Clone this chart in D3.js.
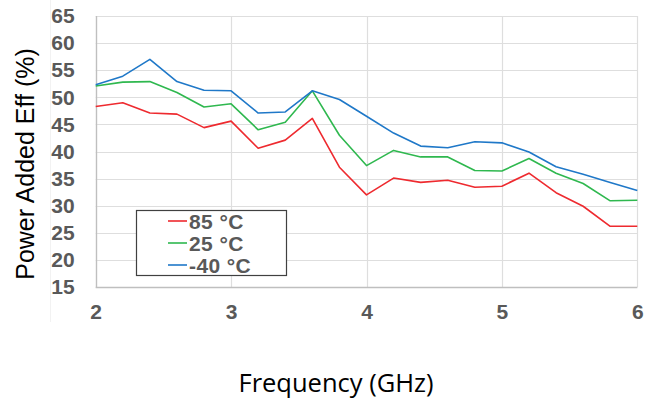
<!DOCTYPE html>
<html>
<head>
<meta charset="utf-8">
<script src="https://cdn.jsdelivr.net/npm/d3@7"></script>
<style>
  body { margin: 0; background: #fff; }
  svg { display: block; }
</style>
</head>
<body>
<div id="chart"></div>
<script>
// frequency points (GHz)
const freqs = [2.0, 2.2, 2.4, 2.6, 2.8, 3.0, 3.2, 3.4, 3.6, 3.8, 4.0,
               4.2, 4.4, 4.6, 4.8, 5.0, 5.2, 5.4, 5.6, 5.8, 6.0];

// PAE (%) per temperature
const pae85 = [48.3, 49.0, 47.1, 46.9, 44.4, 45.6, 40.6, 42.1, 46.1, 37.1, 32.0,
               35.1, 34.3, 34.7, 33.4, 33.6, 36.0, 32.4, 29.9, 26.2, 26.2];
const pae25 = [52.1, 52.8, 52.9, 50.9, 48.2, 48.8, 44.0, 45.4, 51.2, 43.0, 37.4,
               40.2, 39.0, 39.0, 36.5, 36.4, 38.7, 36.0, 34.1, 30.9, 31.0];
const paeM40 = [52.3, 53.9, 57.0, 52.9, 51.3, 51.2, 47.1, 47.3, 51.2, 49.6, 46.5,
                43.4, 41.0, 40.7, 41.8, 41.6, 39.9, 37.2, 35.8, 34.3, 32.8];

const seriesNames = ['85 °C', '25 °C', '-40 °C'];
const seriesColors = ['#ee2a2f', '#2fb84f', '#1f78c8'];
const xTicks = [2, 3, 4, 5, 6];
const yTicks = [15, 20, 25, 30, 35, 40, 45, 50, 55, 60, 65];

const width = 645, height = 402;
const margin = { left: 95.7, right: 7.7, top: 16, bottom: 115 };

const svg = d3.select('#chart').append('svg')
    .attr('width', width)
    .attr('height', height);

const x = d3.scaleLinear().domain([2, 6]).range([margin.left, width - margin.right]);
const y = d3.scaleLinear().domain([15, 65]).range([height - margin.bottom, margin.top]);

// faint chart-area edge
svg.append('line')
    .attr('x1', 50.5).attr('x2', 50.5)
    .attr('y1', 0).attr('y2', 322)
    .attr('stroke', '#f2f2f2');

// gridlines
svg.append('g')
    .selectAll('line')
    .data(yTicks)
    .join('line')
    .attr('x1', x(2)).attr('x2', x(6))
    .attr('y1', d => Math.round(y(d)) + 0.5)
    .attr('y2', d => Math.round(y(d)) + 0.5)
    .attr('stroke', '#dedede')
    .attr('stroke-width', 1.2);

svg.append('g')
    .selectAll('line')
    .data(xTicks)
    .join('line')
    .attr('x1', d => Math.round(x(d)) + 0.5)
    .attr('x2', d => Math.round(x(d)) + 0.5)
    .attr('y1', y(65)).attr('y2', y(15))
    .attr('stroke', '#dedede')
    .attr('stroke-width', 1.2);

// axes lines
svg.append('line')
    .attr('x1', x(2)).attr('x2', x(6))
    .attr('y1', Math.round(y(15)) + 0.5).attr('y2', Math.round(y(15)) + 0.5)
    .attr('stroke', '#bfbfbf').attr('stroke-width', 1.3);
svg.append('line')
    .attr('x1', Math.round(x(2)) + 0.5).attr('x2', Math.round(x(2)) + 0.5)
    .attr('y1', y(65)).attr('y2', y(15))
    .attr('stroke', '#bfbfbf').attr('stroke-width', 1.3);

// tick labels
const yAxis = svg.append('g')
    .attr('transform', `translate(${x(2)},0)`)
    .call(d3.axisLeft(y).tickValues(yTicks).tickSize(0).tickPadding(21));
yAxis.select('.domain').remove();
yAxis.selectAll('text')
    .attr('font-family', 'Liberation Sans, Arial, sans-serif')
    .attr('font-size', 21)
    .attr('font-weight', 'bold')
    .attr('fill', '#595959');

const xAxis = svg.append('g')
    .attr('transform', `translate(0,${y(15)})`)
    .call(d3.axisBottom(x).tickValues(xTicks).tickFormat(d3.format('d')).tickSize(0).tickPadding(17));
xAxis.select('.domain').remove();
xAxis.selectAll('text')
    .attr('font-family', 'Liberation Sans, Arial, sans-serif')
    .attr('font-size', 21)
    .attr('font-weight', 'bold')
    .attr('fill', '#595959');

// series lines
const line = d3.line()
    .x((d, i) => x(freqs[i]))
    .y(d => y(d));

[pae85, pae25, paeM40].forEach((vals, i) => {
    svg.append('path')
        .datum(vals)
        .attr('d', line)
        .attr('fill', 'none')
        .attr('stroke', seriesColors[i])
        .attr('stroke-width', 1.6)
        .attr('stroke-linejoin', 'round');
});

// axis titles
svg.append('text')
    .attr('x', 336)
    .attr('y', 392)
    .attr('text-anchor', 'middle')
    .attr('font-family', 'Open Sans, sans-serif')
    .attr('font-size', 25.5)
    .attr('fill', '#000')
    .text('Frequency (GHz)');

svg.append('text')
    .attr('transform', 'translate(34,164) rotate(-90)')
    .attr('text-anchor', 'middle')
    .attr('font-family', 'Liberation Sans, Arial, sans-serif')
    .attr('font-size', 25)
    .attr('fill', '#000')
    .text('Power Added Eff (%)');

// legend
const legend = svg.append('g');
legend.append('rect')
    .attr('x', 136.5).attr('y', 210.5)
    .attr('width', 150).attr('height', 65)
    .attr('fill', '#fff')
    .attr('stroke', '#404040')
    .attr('stroke-width', 1.2);

seriesNames.forEach((name, i) => {
    const cy = 221 + i * 22;
    legend.append('line')
        .attr('x1', 168).attr('x2', 187)
        .attr('y1', cy).attr('y2', cy)
        .attr('stroke', seriesColors[i])
        .attr('stroke-width', 1.6);
    legend.append('text')
        .attr('x', 189)
        .attr('y', cy + 7.5)
        .attr('font-family', 'Liberation Sans, Arial, sans-serif')
        .attr('font-size', 21)
        .attr('letter-spacing', 0.4)
        .attr('font-weight', 'bold')
        .attr('fill', '#595959')
        .text(name);
});
</script>
</body>
</html>
